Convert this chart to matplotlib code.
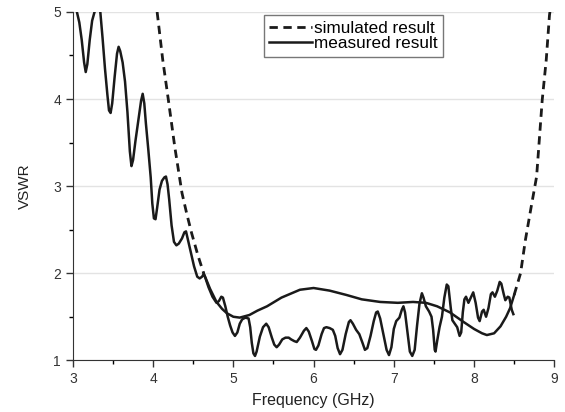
import numpy as np
import matplotlib.pyplot as plt
from matplotlib.ticker import MultipleLocator

plt.rcParams['font.family'] = ['Liberation Sans', 'DejaVu Sans']

# measured VSWR
meas_f = [3.05, 3.08, 3.11, 3.14, 3.16, 3.18, 3.21, 3.24, 3.27, 3.30, 3.34, 3.37,
          3.40, 3.43, 3.45, 3.47, 3.49, 3.52, 3.55, 3.57, 3.59, 3.62, 3.65, 3.68,
          3.71, 3.73, 3.75, 3.78, 3.82, 3.85, 3.87, 3.89, 3.91, 3.94, 3.97, 3.99,
          4.01, 4.03, 4.05, 4.08, 4.11, 4.14, 4.16, 4.18, 4.20, 4.23, 4.26, 4.29,
          4.32, 4.36, 4.39, 4.41, 4.43, 4.47, 4.51, 4.55, 4.58, 4.61, 4.63, 4.65,
          4.69, 4.74, 4.79, 4.82, 4.85, 4.87, 4.90, 4.93, 4.96, 4.99, 5.02, 5.05,
          5.08, 5.11, 5.15, 5.19, 5.21, 5.23, 5.25, 5.27, 5.29, 5.33, 5.37, 5.41,
          5.44, 5.48, 5.51, 5.54, 5.57, 5.61, 5.65, 5.69, 5.72, 5.76, 5.79, 5.83,
          5.88, 5.91, 5.94, 5.98, 6.01, 6.03, 6.06, 6.10, 6.13, 6.16, 6.20, 6.24,
          6.27, 6.30, 6.33, 6.36, 6.40, 6.44, 6.46, 6.49, 6.53, 6.57, 6.61, 6.64,
          6.67, 6.71, 6.75, 6.78, 6.80, 6.83, 6.87, 6.91, 6.94, 6.97, 7.00, 7.03,
          7.07, 7.10, 7.12, 7.14, 7.17, 7.20, 7.23, 7.26, 7.29, 7.32, 7.35, 7.37,
          7.40, 7.44, 7.47, 7.49, 7.51, 7.52, 7.54, 7.57, 7.60, 7.63, 7.66, 7.68,
          7.71, 7.73, 7.76, 7.79, 7.82, 7.84, 7.86, 7.88, 7.90, 7.93, 7.96, 7.99,
          8.02, 8.05, 8.07, 8.10, 8.12, 8.15, 8.18, 8.21, 8.23, 8.26, 8.29, 8.32,
          8.34, 8.37, 8.39, 8.42, 8.44, 8.47, 8.49]
meas_v = [5.00, 4.88, 4.68, 4.42, 4.31, 4.40, 4.68, 4.90, 5.00, 5.05, 5.02, 4.70,
          4.35, 4.05, 3.87, 3.84, 3.95, 4.25, 4.52, 4.60, 4.55, 4.42, 4.20, 3.85,
          3.40, 3.23, 3.30, 3.52, 3.78, 3.98, 4.06, 3.95, 3.72, 3.42, 3.10, 2.80,
          2.63, 2.62, 2.75, 2.96, 3.06, 3.10, 3.11, 3.02, 2.85, 2.55, 2.36, 2.32,
          2.34, 2.40, 2.47, 2.48, 2.40, 2.24, 2.08, 1.96, 1.94, 1.96, 1.99, 1.95,
          1.84, 1.73, 1.66, 1.68, 1.73, 1.72, 1.62, 1.50, 1.40, 1.32, 1.28, 1.32,
          1.42, 1.47, 1.49, 1.48, 1.38, 1.20, 1.08, 1.05, 1.10, 1.27, 1.38, 1.42,
          1.38, 1.26, 1.18, 1.15, 1.18, 1.24, 1.26, 1.26, 1.24, 1.22, 1.21, 1.26,
          1.34, 1.37, 1.33, 1.22, 1.13, 1.12, 1.17, 1.30, 1.37, 1.38, 1.37, 1.35,
          1.28, 1.14, 1.07, 1.12, 1.30, 1.44, 1.46, 1.42, 1.35, 1.30, 1.20, 1.12,
          1.14, 1.28, 1.45, 1.55, 1.56, 1.48, 1.30, 1.12, 1.06, 1.15, 1.36, 1.45,
          1.49, 1.58, 1.62, 1.55, 1.32, 1.10, 1.05, 1.12, 1.40, 1.65, 1.77, 1.72,
          1.62, 1.56, 1.50, 1.35, 1.12, 1.10, 1.22, 1.38, 1.50, 1.72, 1.87, 1.85,
          1.60, 1.46, 1.42, 1.38, 1.28, 1.32, 1.55, 1.70, 1.73, 1.66, 1.72, 1.78,
          1.66, 1.49, 1.45, 1.56, 1.58, 1.50, 1.60, 1.76, 1.78, 1.73, 1.80, 1.90,
          1.88, 1.76, 1.69, 1.73, 1.72, 1.58, 1.53]

# simulated VSWR
sim_f = [4.05, 4.12, 4.19, 4.27, 4.36, 4.42, 4.48, 4.56, 4.63, 4.71, 4.79, 4.86,
         4.92, 5.00, 5.08, 5.20, 5.30, 5.42, 5.60, 5.83, 6.00, 6.20, 6.41, 6.60,
         6.83, 7.05, 7.24, 7.40, 7.54, 7.70, 7.87, 8.00, 8.10, 8.16, 8.25, 8.33,
         8.40, 8.45, 8.50, 8.58, 8.64, 8.71, 8.78, 8.85, 8.90, 8.94, 8.96]
sim_v = [5.00, 4.45, 3.99, 3.45, 2.92, 2.68, 2.46, 2.20, 2.00, 1.82, 1.67, 1.59,
         1.54, 1.50, 1.49, 1.52, 1.57, 1.62, 1.72, 1.81, 1.83, 1.80, 1.75, 1.70,
         1.67, 1.66, 1.67, 1.66, 1.62, 1.55, 1.44, 1.36, 1.31, 1.29, 1.31, 1.39,
         1.50, 1.60, 1.75, 2.00, 2.38, 2.75, 3.11, 3.99, 4.45, 4.96, 5.10]

sim_f = np.array(sim_f)
sim_v = np.array(sim_v)

fig = plt.figure(figsize=(5.65, 4.12), dpi=100)
ax = fig.add_axes([0.129, 0.1255, 0.852, 0.8455])

# the middle of the simulated curve looks solid in the original
left = sim_f <= 4.63
mid = (sim_f >= 4.63) & (sim_f <= 8.50)
right = sim_f >= 8.50
dash = (0, (3, 2))
ax.plot(sim_f[left], sim_v[left], color='#1a1a1a', lw=2.0, ls=dash,
        label='simulated result')
ax.plot(sim_f[mid], sim_v[mid], color='#1a1a1a', lw=1.8,
        solid_joinstyle='round')
ax.plot(sim_f[right], sim_v[right], color='#1a1a1a', lw=2.0, ls=dash)
ax.plot(meas_f, meas_v, color='#1a1a1a', lw=1.8, solid_joinstyle='round',
        label='measured result')

ax.set_xlim(3, 9)
ax.set_ylim(1, 5)
ax.xaxis.set_major_locator(MultipleLocator(1))
ax.xaxis.set_minor_locator(MultipleLocator(0.5))
ax.yaxis.set_major_locator(MultipleLocator(1))
ax.yaxis.set_minor_locator(MultipleLocator(0.5))
ax.tick_params(which='major', direction='out', length=5, width=1, labelsize=10,
               colors='#333333')
ax.tick_params(which='minor', direction='out', length=3, width=1)
ax.grid(axis='y', color='#e3e3e3', lw=1)
ax.set_axisbelow(True)
for s in ['top', 'right']:
    ax.spines[s].set_visible(False)
for s in ['left', 'bottom']:
    ax.spines[s].set_color('#333333')

ax.set_xlabel('Frequency (GHz)', fontsize=11.5, color='#222222', labelpad=5)
ax.set_ylabel('VSWR', fontsize=11, color='#222222', labelpad=15)

leg = ax.legend(loc='upper left', bbox_to_anchor=(0.397, 0.99), borderaxespad=0,
                fontsize=12.3, fancybox=False, framealpha=1, edgecolor='#777777',
                handlelength=2.5, handletextpad=0.15, labelspacing=0.05,
                borderpad=0.3)
leg.get_frame().set_linewidth(1.0)

fig.savefig('out.png', dpi=100)
